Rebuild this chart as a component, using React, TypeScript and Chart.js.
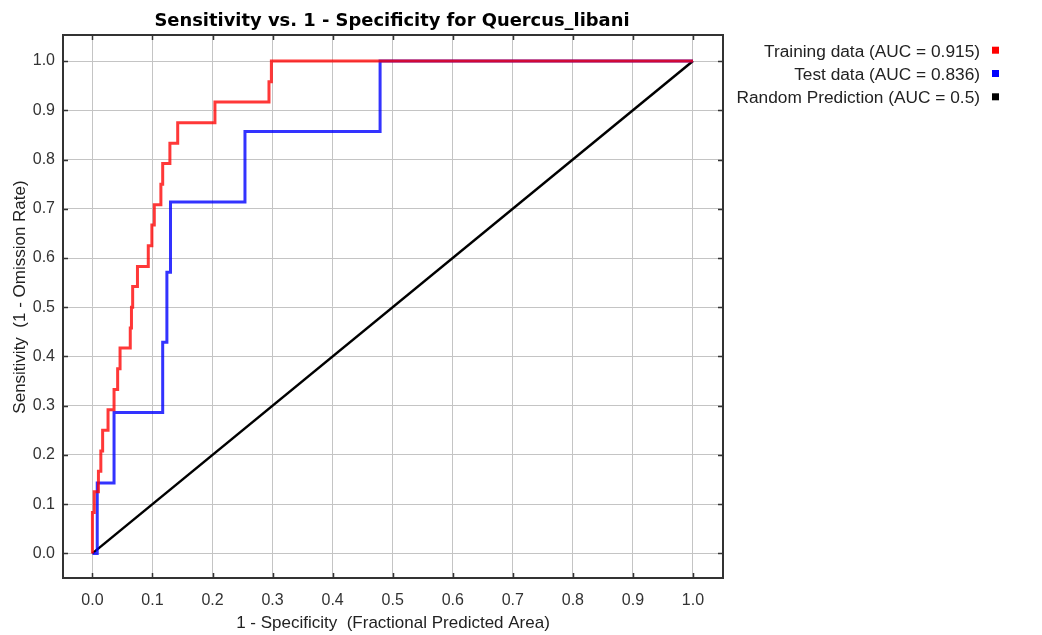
import React, { useEffect, useRef } from 'react';
import { Chart, registerables } from 'chart.js';

Chart.register(...registerables);

// ---- Data ----
const trainX = [0, 0, 0.003, 0.003, 0.010, 0.010, 0.014, 0.014, 0.017, 0.017, 0.026, 0.026, 0.036, 0.036, 0.042, 0.042, 0.046, 0.046, 0.063, 0.063, 0.065, 0.065, 0.067, 0.067, 0.075, 0.075, 0.093, 0.093, 0.099, 0.099, 0.103, 0.103, 0.114, 0.114, 0.117, 0.117, 0.129, 0.129, 0.142, 0.142, 0.204, 0.204, 0.294, 0.294, 0.298, 0.298, 1.0];
const trainY = [0, 0.083, 0.083, 0.125, 0.125, 0.167, 0.167, 0.208, 0.208, 0.250, 0.250, 0.292, 0.292, 0.333, 0.333, 0.375, 0.375, 0.417, 0.417, 0.458, 0.458, 0.500, 0.500, 0.542, 0.542, 0.583, 0.583, 0.625, 0.625, 0.667, 0.667, 0.708, 0.708, 0.750, 0.750, 0.792, 0.792, 0.833, 0.833, 0.875, 0.875, 0.917, 0.917, 0.958, 0.958, 1.0, 1.0];

const testX = [0, 0.008, 0.008, 0.036, 0.036, 0.117, 0.117, 0.124, 0.124, 0.130, 0.130, 0.254, 0.254, 0.479, 0.479, 1.0];
const testY = [0, 0, 0.143, 0.143, 0.286, 0.286, 0.429, 0.429, 0.571, 0.571, 0.714, 0.714, 0.857, 0.857, 1.0, 1.0];

const randomX = [0, 1];
const randomY = [0, 1];

const seriesLabels = [
  'Training data (AUC = 0.915)',
  'Test data (AUC = 0.836)',
  'Random Prediction (AUC = 0.5)',
];
const lineColors = ['rgba(255,0,0,0.78)', 'rgba(0,0,255,0.8)', '#000000'];
const markerColors = ['#ff0000', '#0000ff', '#000000'];

const axisTicks = [0, 0.1, 0.2, 0.3, 0.4, 0.5, 0.6, 0.7, 0.8, 0.9, 1.0];

const titleText = 'Sensitivity vs. 1 - Specificity for Quercus_libani';
const xTitleText = '1 - Specificity  (Fractional Predicted Area)';
const yTitleText = 'Sensitivity  (1 - Omission Rate)';

const SANS = '"Liberation Sans", Arial, sans-serif';

const toPoints = (xs: number[], ys: number[]) => xs.map((x, i) => ({ x, y: ys[i] }));

const decorPlugin = {
  id: 'decor',
  afterDraw(chart: any) {
    const { ctx, chartArea } = chart;
    const { left, right, top, bottom } = chartArea;
    const xs = chart.scales.x;
    const ys = chart.scales.y;
    ctx.save();
    // frame
    ctx.strokeStyle = '#333333';
    ctx.lineWidth = 2;
    ctx.strokeRect(left, top, right - left, bottom - top);
    // inside ticks
    ctx.lineWidth = 1.5;
    const tl = 5;
    axisTicks.forEach((v) => {
      const px = Math.round(xs.getPixelForValue(v)) + 0.5;
      ctx.beginPath();
      ctx.moveTo(px, top);
      ctx.lineTo(px, top + tl);
      ctx.moveTo(px, bottom);
      ctx.lineTo(px, bottom - tl);
      ctx.stroke();
      const py = Math.round(ys.getPixelForValue(v)) + 0.5;
      ctx.beginPath();
      ctx.moveTo(left, py);
      ctx.lineTo(left + tl, py);
      ctx.moveTo(right, py);
      ctx.lineTo(right - tl, py);
      ctx.stroke();
    });
    // title
    ctx.fillStyle = '#000000';
    ctx.font = 'bold 17.9px "DejaVu Sans", sans-serif';
    ctx.textAlign = 'center';
    ctx.textBaseline = 'alphabetic';
    ctx.fillText(titleText, (left + right) / 2 - 1, 26);
    // x title
    ctx.fillStyle = '#222222';
    ctx.font = '17px ' + SANS;
    ctx.fillText(xTitleText, (left + right) / 2, 628);
    // y title
    ctx.save();
    ctx.translate(25, 297);
    ctx.rotate(-Math.PI / 2);
    ctx.fillText(yTitleText, 0, 0);
    ctx.restore();
    // legend
    ctx.font = '17.3px ' + SANS;
    ctx.textAlign = 'right';
    const baselines = [56.7, 80, 103.3];
    seriesLabels.forEach((lab, i) => {
      ctx.fillStyle = '#222222';
      ctx.fillText(lab, 980, baselines[i]);
      ctx.fillStyle = markerColors[i];
      ctx.fillRect(992, baselines[i] - 10, 7, 7);
    });
    ctx.restore();
  },
};

export default function App() {
  const ref = useRef<HTMLCanvasElement | null>(null);
  useEffect(() => {
    document.body.style.margin = '0';
    const canvas = ref.current!;
    const chart = new Chart(canvas, {
      type: 'line',
      data: {
        datasets: [
          { label: seriesLabels[0], data: toPoints(trainX, trainY), borderColor: lineColors[0], borderWidth: 3 },
          { label: seriesLabels[1], data: toPoints(testX, testY), borderColor: lineColors[1], borderWidth: 3 },
          { label: seriesLabels[2], data: toPoints(randomX, randomY), borderColor: lineColors[2], borderWidth: 2.5 },
        ].map((d) => ({ ...d, pointRadius: 0, tension: 0, fill: false, borderJoinStyle: 'miter' as const })),
      },
      options: {
        animation: false,
        responsive: false,
        maintainAspectRatio: false,
        devicePixelRatio: 1,
        layout: { padding: { left: 0, right: 319, top: 35, bottom: 0 } },
        plugins: { legend: { display: false }, title: { display: false }, tooltip: { enabled: false } },
        scales: {
          x: {
            type: 'linear',
            min: -0.049,
            max: 1.05,
            afterFit: (s: any) => { s.height = 57; },
            afterBuildTicks: (s: any) => { s.ticks = axisTicks.map((v) => ({ value: v })); },
            grid: { color: '#c4c4c4', lineWidth: 1, drawTicks: false },
            border: { display: false },
            ticks: { padding: 13, color: '#333333', font: { family: SANS, size: 16 }, callback: (v: any) => Number(v).toFixed(1), autoSkip: false, maxRotation: 0 },
          },
          y: {
            type: 'linear',
            min: -0.05,
            max: 1.053,
            afterFit: (s: any) => { s.width = 63; },
            afterBuildTicks: (s: any) => { s.ticks = axisTicks.map((v) => ({ value: v })); },
            grid: { color: '#c4c4c4', lineWidth: 1, drawTicks: false },
            border: { display: false },
            ticks: { padding: 8, color: '#333333', font: { family: SANS, size: 16 }, callback: (v: any) => Number(v).toFixed(1), autoSkip: false },
          },
        },
      },
      plugins: [decorPlugin],
    });
    return () => chart.destroy();
  }, []);
  return (
    <div style={{ position: 'absolute', left: 0, top: 0, width: 1042, height: 635, background: '#ffffff' }}>
      <canvas ref={ref} width={1042} height={635} style={{ display: 'block' }} />
    </div>
  );
}
